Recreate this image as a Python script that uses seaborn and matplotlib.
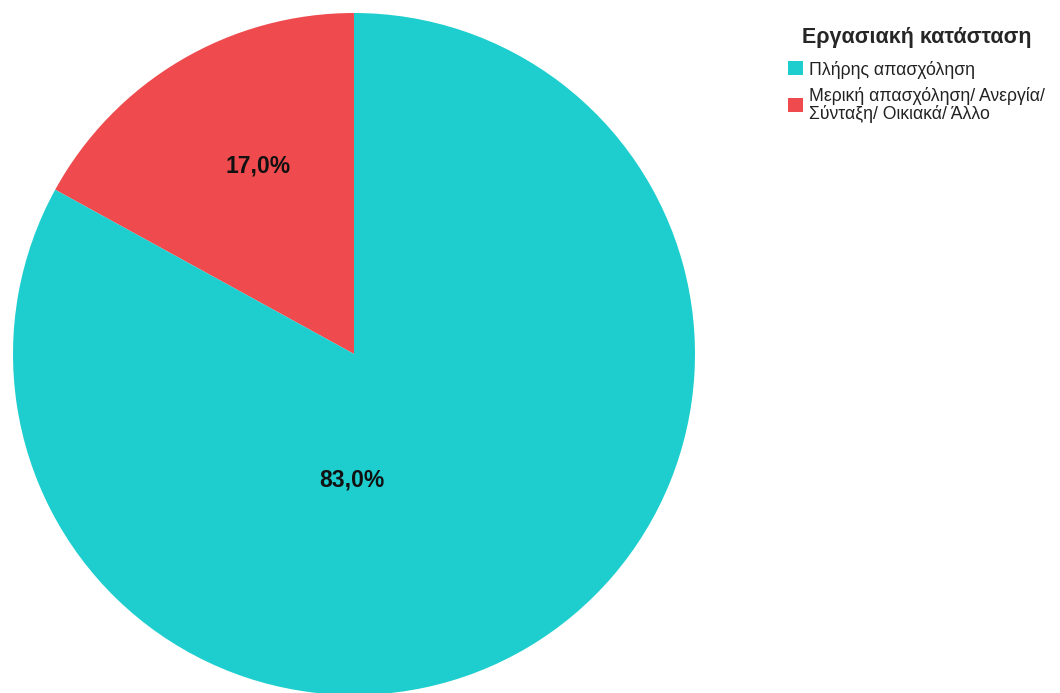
import matplotlib
matplotlib.use("Agg")
import matplotlib.pyplot as plt
import seaborn as sns
import numpy as np

# data
categories = ["Μερική απασχόληση/ Ανεργία/\nΣύνταξη/ Οικιακά/ Άλλο", "Πλήρης απασχόληση"]
shares = [17.0, 83.0]
colors = ["#EF4B4E", "#1ECECE"]
legend_order = [1, 0]

sns.set_theme(style="white")
plt.rcParams["font.family"] = ["Liberation Sans", "DejaVu Sans"]

fig = plt.figure(figsize=(10.6, 6.93), dpi=100)
ax = fig.add_axes([13 / 1060, -2 / 693, 682 / 1060, 682 / 693])

wedges, texts, autotexts = ax.pie(
    shares, colors=colors, startangle=90, counterclock=True,
    autopct=lambda p: f"{p:.1f}%".replace(".", ","),
    pctdistance=0.62, radius=1,
    wedgeprops=dict(linewidth=0),
    textprops=dict(fontsize=16.5, fontweight="bold", color="#111111"),
)
# place slice labels where the original has them
autotexts[1].set_position((-0.006, -0.37))
autotexts[0].set_position((-0.28, 0.55))
ax.set_xlim(-1, 1)
ax.set_ylim(-1, 1)
ax.set_aspect("equal")
ax.axis("off")

handles = [wedges[i] for i in legend_order]
labels = [categories[i] for i in legend_order]
leg = fig.legend(
    handles, labels, title="Εργασιακή κατάσταση",
    loc="upper left", bbox_to_anchor=(781 / 1060, 1 - 20 / 693),
    frameon=False, fontsize=12.7, handlelength=0.85, handleheight=0.85,
    handletextpad=0.35, labelspacing=0.5, borderaxespad=0,
    title_fontproperties=dict(size=15.5, weight="bold"),
)
leg._legend_box.sep = 9
for txt in leg.get_texts():
    txt.set_color("#222222")
    txt.set_linespacing(0.95)

fig.savefig("out.png", dpi=100)
